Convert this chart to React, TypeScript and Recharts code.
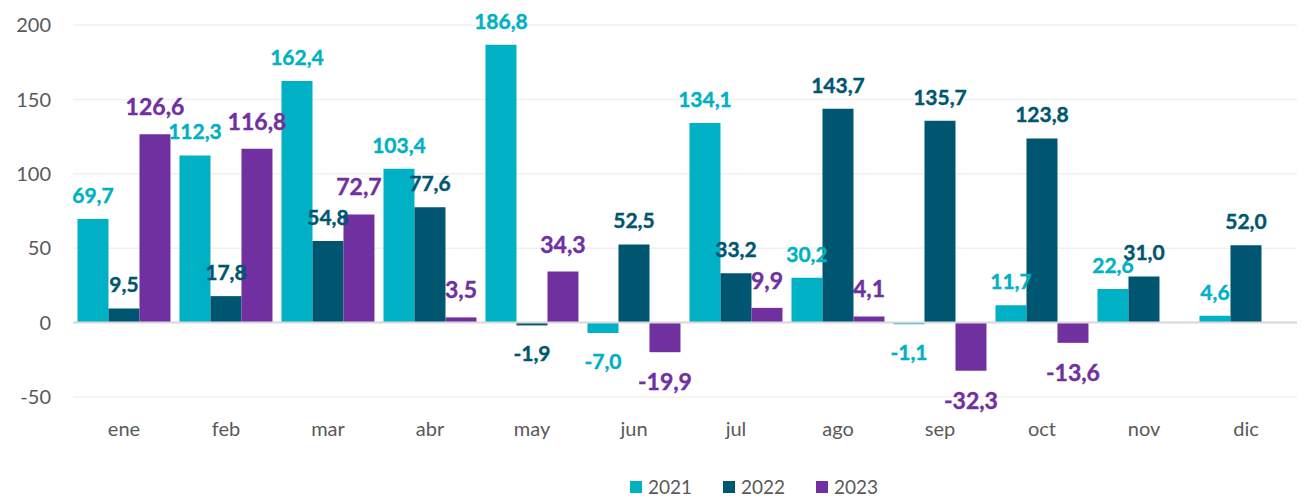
import React from "react";
import { BarChart, Bar, XAxis, YAxis, CartesianGrid, ReferenceLine, LabelList, Legend } from "recharts";

const months = ["ene", "feb", "mar", "abr", "may", "jun", "jul", "ago", "sep", "oct", "nov", "dic"];
const s2021 = [69.7, 112.3, 162.4, 103.4, 186.8, -7.0, 134.1, 30.2, -1.1, 11.7, 22.6, 4.6];
const s2022 = [9.5, 17.8, 54.8, 77.6, -1.9, 52.5, 33.2, 143.7, 135.7, 123.8, 31.0, 52.0];
const s2023: (number | null)[] = [126.6, 116.8, 72.7, 3.5, 34.3, -19.9, 9.9, 4.1, -32.3, -13.6, null, null];
const yTicks = [-50, 0, 50, 100, 150, 200];

const seriesNames = ["2021", "2022", "2023"];
const colors = ["#00B0C4", "#005670", "#7030A0"];

const data = months.map((m, i) => ({ m, a: s2021[i], b: s2022[i], c: s2023[i] }));

const fmt = (v: number) => v.toFixed(1).replace(".", ",");

const makeLabel = (color: string, size: number, upOff: number, downOff: number) => (props: any) => {
  const { x, y, width, height, value } = props;
  if (value === null || value === undefined) return null;
  const top = Math.min(y, y + height);
  const bottom = Math.max(y, y + height);
  const cx = x + width / 2;
  const ty = value >= 0 ? top - upOff : bottom + downOff;
  return (
    <text x={cx} y={ty} textAnchor="middle" fill={color} stroke={color} strokeWidth={0.4} fontSize={size} fontWeight={700} fontFamily="Lato">
      {fmt(value)}
    </text>
  );
};

const LegendContent = () => (
  <div style={{ position: "relative", height: 55, width: 1303, fontFamily: "Lato", fontSize: 19, color: "#595959" }}>
    {seriesNames.map((n, i) => (
      <div key={n} style={{ position: "absolute", left: 630 + i * 93, top: 28, display: "flex", alignItems: "center" }}>
        <span style={{ display: "inline-block", width: 12, height: 12, background: colors[i], marginRight: 6 }} />
        <span>{n}</span>
      </div>
    ))}
  </div>
);

export default function App() {
  return (
    <div style={{ position: "absolute", left: 0, top: 0, background: "#fff" }}>
      <BarChart
        width={1303}
        height={502}
        data={data}
        margin={{ top: 25, right: 6, left: 0, bottom: 0 }}
        barCategoryGap="4.4%"
        barGap={0}
      >
        <CartesianGrid vertical={false} stroke="#f0f0f0" strokeWidth={1.5} />
        <XAxis
          dataKey="m"
          axisLine={false}
          tickLine={false}
          tickSize={0}
          tickMargin={25}
          height={50}
          interval={0}
          tick={{ fill: "#595959", fontSize: 20, fontFamily: "Lato" }}
        />
        <YAxis
          domain={[-50, 200]}
          ticks={yTicks}
          width={73}
          axisLine={false}
          tickLine={false}
          tickSize={0}
          tickMargin={22}
          tick={{ fill: "#595959", fontSize: 20, fontFamily: "Lato" }}
        />
        <ReferenceLine y={0} stroke="#d9d9d9" strokeWidth={2} />
        <Legend verticalAlign="bottom" content={<LegendContent />} wrapperStyle={{ left: 0, bottom: 0, width: 1303 }} />
        <Bar dataKey="a" name="2021" fill={colors[0]} isAnimationActive={false}>
          <LabelList dataKey="a" content={makeLabel(colors[0], 21, 16, 36)} />
        </Bar>
        <Bar dataKey="b" name="2022" fill={colors[1]} isAnimationActive={false}>
          <LabelList dataKey="b" content={makeLabel(colors[1], 21, 16, 36)} />
        </Bar>
        <Bar dataKey="c" name="2023" fill={colors[2]} isAnimationActive={false}>
          <LabelList dataKey="c" content={makeLabel(colors[2], 23, 19, 38)} />
        </Bar>
      </BarChart>
    </div>
  );
}
